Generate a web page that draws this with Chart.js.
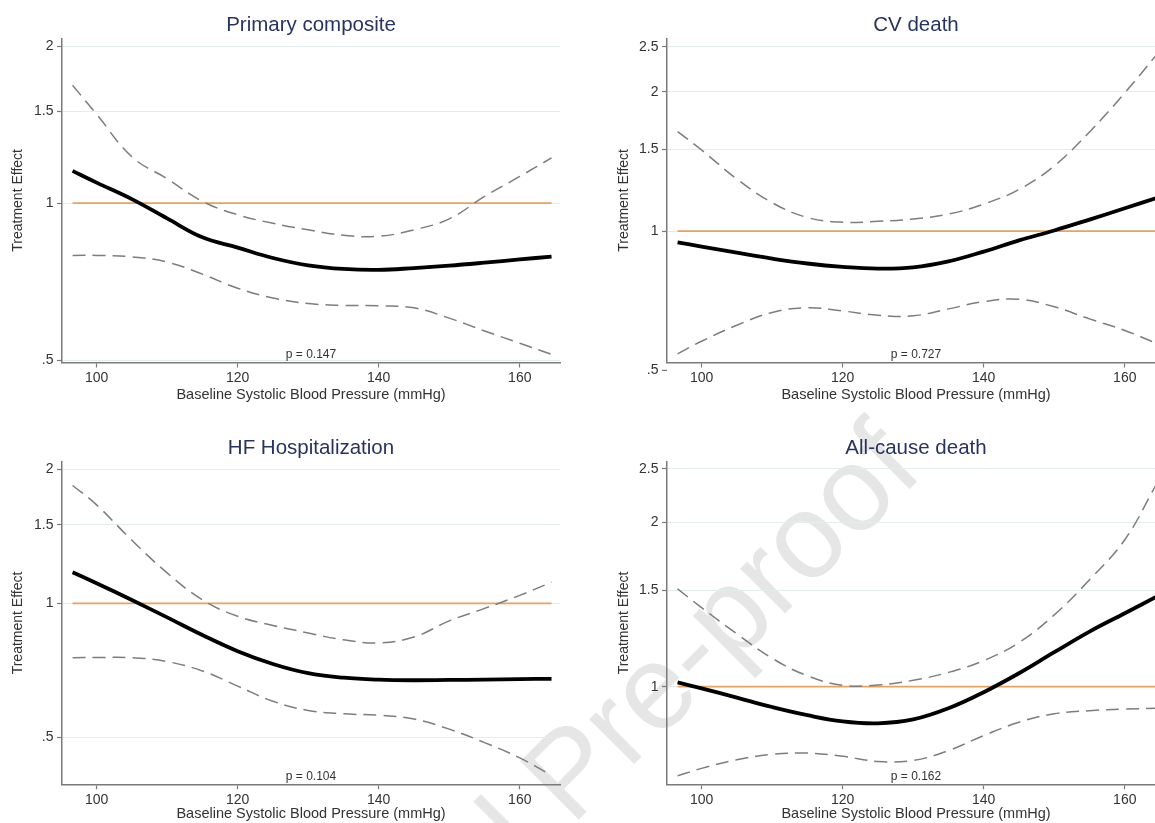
<!DOCTYPE html>
<html>
<head>
<meta charset="utf-8">
<script src="https://cdn.jsdelivr.net/npm/chart.js@4.4.1/dist/chart.umd.min.js"></script>
<style>
  html, body { margin: 0; padding: 0; background: #fff; }
  body { width: 1155px; height: 823px; position: relative; overflow: hidden; font-family: "Liberation Sans", Arial, sans-serif; }
  canvas { position: absolute; z-index: 1; }
  #watermark {
    position: absolute; left: 568px; top: 771px; z-index: 0;
    transform: translate(-50%, -50%) rotate(-45deg);
    font-size: 120px; color: #e6e6e6; white-space: nowrap;
  }
</style>
</head>
<body>
<div id="watermark">Journal Pre-proof</div>
<canvas id="c1"></canvas>
<canvas id="c2"></canvas>
<canvas id="c3"></canvas>
<canvas id="c4"></canvas>
<script>
// baseline SBP grid the curves were read at
const bpValues = [96.6, 100, 105, 110, 115, 120, 125, 130, 135, 140, 145, 150, 155, 160, 164.5];
const xTickValues = [100, 120, 140, 160];
const yTickValues = [0.5, 1, 1.5, 2, 2.5];

const panelTitles = ['Primary composite', 'CV death', 'HF Hospitalization', 'All-cause death'];
const pValues = ['p = 0.147', 'p = 0.727', 'p = 0.104', 'p = 0.162'];

const primaryEffect = [1.153, 1.095, 1.018, 0.935, 0.860, 0.822, 0.785, 0.760, 0.748, 0.745, 0.751, 0.759, 0.769, 0.780, 0.790];
const primaryUpper  = [1.682, 1.481, 1.227, 1.114, 1.008, 0.950, 0.915, 0.889, 0.868, 0.864, 0.889, 0.933, 1.030, 1.125, 1.221];
const primaryLower  = [0.794, 0.794, 0.789, 0.771, 0.731, 0.687, 0.658, 0.642, 0.637, 0.636, 0.630, 0.602, 0.569, 0.539, 0.513];

const cvEffect = [0.945, 0.926, 0.898, 0.872, 0.851, 0.837, 0.830, 0.835, 0.860, 0.903, 0.955, 1.003, 1.059, 1.120, 1.179];
const cvUpper  = [1.641, 1.497, 1.296, 1.152, 1.070, 1.045, 1.050, 1.062, 1.088, 1.144, 1.230, 1.383, 1.638, 1.989, 2.405];
const cvLower  = [0.543, 0.578, 0.626, 0.667, 0.683, 0.672, 0.658, 0.656, 0.679, 0.704, 0.712, 0.686, 0.646, 0.610, 0.572];

const hfEffect = [1.174, 1.109, 1.017, 0.930, 0.849, 0.781, 0.731, 0.697, 0.681, 0.674, 0.672, 0.673, 0.674, 0.676, 0.677];
const hfUpper  = [1.838, 1.663, 1.385, 1.170, 1.018, 0.935, 0.892, 0.858, 0.828, 0.815, 0.840, 0.913, 0.974, 1.042, 1.115];
const hfLower  = [0.755, 0.756, 0.755, 0.740, 0.705, 0.652, 0.603, 0.575, 0.565, 0.561, 0.550, 0.522, 0.487, 0.450, 0.411];

const allEffect = [1.018, 0.993, 0.955, 0.918, 0.887, 0.864, 0.857, 0.871, 0.913, 0.977, 1.058, 1.156, 1.261, 1.362, 1.461];
const allUpper  = [1.509, 1.395, 1.249, 1.127, 1.047, 1.006, 1.007, 1.027, 1.062, 1.116, 1.204, 1.353, 1.568, 1.856, 2.347];
const allLower  = [0.687, 0.709, 0.735, 0.752, 0.756, 0.746, 0.730, 0.733, 0.764, 0.814, 0.861, 0.892, 0.904, 0.910, 0.913];

const FONT = '"Liberation Sans", Arial, sans-serif';
Chart.defaults.font.family = FONT;
Chart.defaults.color = '#333';

const fmtTick = v => String(Number(v)).replace(/^0\./, '.');

// titles, p-values and the ticks Stata puts below the plot region
const annotate = {
  id: 'annotate',
  afterDraw(chart, args, opts) {
    const { ctx, chartArea } = chart;
    const cx = (chartArea.left + chartArea.right) / 2;
    ctx.save();
    ctx.textAlign = 'center';
    ctx.textBaseline = 'alphabetic';
    ctx.fillStyle = '#28345f';
    ctx.font = '20.5px ' + FONT;
    ctx.fillText(opts.title, cx, chartArea.top - 7.5);
    ctx.fillStyle = '#333';
    ctx.font = '12px ' + FONT;
    ctx.fillText(opts.pText, cx, chartArea.bottom - 4.5);

    const yScale = chart.scales.y;
    (opts.outsideTicks || []).forEach(v => {
      const py = yScale.getPixelForValue(v);
      ctx.strokeStyle = '#7a7a7a';
      ctx.lineWidth = 1.2;
      ctx.beginPath();
      ctx.moveTo(chartArea.left - 5, py);
      ctx.lineTo(chartArea.left, py);
      ctx.stroke();
      ctx.font = '14px ' + FONT;
      ctx.textAlign = 'right';
      ctx.textBaseline = 'middle';
      ctx.fillText(fmtTick(v), chartArea.left - 8.5, py);
    });
    ctx.restore();
  }
};

const panels = [
  { id: 'c1', title: panelTitles[0], p: pValues[0], effect: primaryEffect, upper: primaryUpper, lower: primaryLower,
    yMin: 0.495, yMax: 2.07, left: 0, top: 0, width: 578, height: 412,
    yAxisWidth: 62, xAxisHeight: 49.5, padTop: 38.3, padRight: 18, yTitlePad: 9.6, xTitlePad: 8.3, outside: [] },
  { id: 'c2', title: panelTitles[1], p: pValues[1], effect: cvEffect, upper: cvUpper, lower: cvLower,
    yMin: 0.52, yMax: 2.61, left: 578, top: 0, width: 587, height: 412,
    yAxisWidth: 89, xAxisHeight: 49.5, padTop: 38.3, padRight: 0, yTitlePad: 37.6, xTitlePad: 8.3, outside: [0.5] },
  { id: 'c3', title: panelTitles[2], p: pValues[2], effect: hfEffect, upper: hfUpper, lower: hfLower,
    yMin: 0.3926, yMax: 2.078, left: 0, top: 412, width: 578, height: 411,
    yAxisWidth: 62, xAxisHeight: 38.7, padTop: 49.7, padRight: 18, yTitlePad: 9.6, xTitlePad: 0, outside: [] },
  { id: 'c4', title: panelTitles[3], p: pValues[3], effect: allEffect, upper: allUpper, lower: allLower,
    yMin: 0.663, yMax: 2.578, left: 578, top: 412, width: 587, height: 411,
    yAxisWidth: 89, xAxisHeight: 38.7, padTop: 49.7, padRight: 0, yTitlePad: 37.6, xTitlePad: 0, outside: [] }
];

const toPoints = vals => bpValues.map((x, i) => ({ x: x, y: vals[i] }));

panels.forEach(pn => {
  const canvas = document.getElementById(pn.id);
  canvas.width = pn.width;
  canvas.height = pn.height;
  canvas.style.left = pn.left + 'px';
  canvas.style.top = pn.top + 'px';

  const ciStyle = { borderColor: '#7d7d7d', borderWidth: 1.5, borderDash: [13, 7] };

  new Chart(canvas.getContext('2d'), {
    type: 'line',
    data: {
      datasets: [
        { label: 'Effect', data: toPoints(pn.effect), borderColor: '#000', borderWidth: 3.8 },
        Object.assign({ label: 'Upper', data: toPoints(pn.upper) }, ciStyle),
        Object.assign({ label: 'Lower', data: toPoints(pn.lower) }, ciStyle),
        { label: 'No effect', data: [{ x: bpValues[0], y: 1 }, { x: bpValues[bpValues.length - 1], y: 1 }],
          borderColor: '#eaa25c', borderWidth: 1.8, tension: 0 }
      ]
    },
    options: {
      responsive: false,
      animation: false,
      devicePixelRatio: 1,
      layout: { padding: { top: pn.padTop, right: pn.padRight, left: 0, bottom: 0 } },
      elements: {
        point: { radius: 0, hoverRadius: 0 },
        line: { tension: 0.4, fill: false, capBezierPoints: true }
      },
      plugins: {
        legend: { display: false },
        tooltip: { enabled: false },
        annotate: { title: pn.title, pText: pn.p, outsideTicks: pn.outside }
      },
      scales: {
        x: {
          type: 'linear',
          min: 95.1,
          max: 165.7,
          afterBuildTicks: axis => { axis.ticks = xTickValues.map(v => ({ value: v })); },
          afterFit: axis => { axis.height = pn.xAxisHeight; },
          ticks: { font: { size: 14 }, color: '#333', padding: 2, maxRotation: 0 },
          grid: { drawOnChartArea: false, drawTicks: true, tickLength: 5, tickColor: '#7a7a7a', tickWidth: 1.2 },
          border: { display: true, color: '#7a7a7a', width: 1.5 },
          title: { display: true, text: 'Baseline Systolic Blood Pressure (mmHg)', color: '#333',
                   font: { size: 14.5 }, padding: { top: 0, bottom: pn.xTitlePad } }
        },
        y: {
          type: 'logarithmic',
          min: pn.yMin,
          max: pn.yMax,
          afterBuildTicks: axis => {
            axis.ticks = yTickValues.filter(v => v >= pn.yMin && v <= pn.yMax).map(v => ({ value: v }));
          },
          afterFit: axis => { axis.width = pn.yAxisWidth; },
          ticks: { font: { size: 14 }, color: '#333', padding: 3.5, autoSkip: false, callback: v => fmtTick(v) },
          grid: { color: '#e3eded', lineWidth: 1, drawTicks: true, tickLength: 5, tickColor: '#7a7a7a', tickWidth: 1.2 },
          border: { display: true, color: '#7a7a7a', width: 1.5 },
          title: { display: true, text: 'Treatment Effect', color: '#333',
                   font: { size: 14 }, padding: { top: pn.yTitlePad, bottom: 0 } }
        }
      }
    },
    plugins: [annotate]
  });
});
</script>
</body>
</html>
